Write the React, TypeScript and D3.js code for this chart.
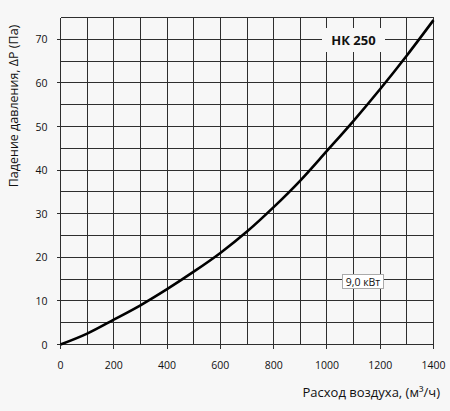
import * as d3 from 'd3';

// air flow, m³/h
const flow = [0, 100, 200, 300, 400, 500, 600, 700, 800, 900, 1000, 1100, 1200, 1300, 1400];
// pressure drop, Pa
const pressure = [0, 2.5, 5.7, 9.0, 12.7, 16.7, 21.0, 25.9, 31.5, 37.6, 44.4, 51.3, 58.6, 66.3, 74.4];

const xTicks = [0, 200, 400, 600, 800, 1000, 1200, 1400];
const yTicks = [0, 10, 20, 30, 40, 50, 60, 70];
const xGrid = d3.range(0, 1401, 100);
const yGrid = d3.range(0, 76, 5);

const modelLabel = 'НК 250';
const powerLabel = '9,0 кВт';
const xTitle = 'Расход воздуха, (м³/ч)';
const yTitle = 'Падение давления, ΔP (Па)';

const width = 450;
const height = 411;
const margin = { top: 17.5, right: 16.5, bottom: 66.5, left: 60.5 };
const font = '"Open Sans", "Noto Sans", sans-serif';
const bg = '#f7f7f7';

export default function App(): JSX.Element {
  const x = d3.scaleLinear().domain([0, 1400]).range([margin.left, width - margin.right]);
  const y = d3.scaleLinear().domain([0, 75]).range([height - margin.bottom, margin.top]);
  const px = (v: number): number => Math.round(v - 0.5) + 0.5;

  const line = d3.line<number>()
    .x((_, i) => x(flow[i]))
    .y(d => y(d))
    .curve(d3.curveCatmullRom.alpha(0.5));

  return (
    <svg
      width={width}
      height={height}
      style={{ position: 'absolute', left: 0, top: 0 }}
      fontFamily={font}
    >
      <rect width={width} height={height} fill={bg} />

      {/* grid */}
      <g stroke="#2e2e2e" strokeWidth={1} shapeRendering="crispEdges">
        {xGrid.map(d => (
          <line
            key={`v${d}`}
            x1={px(x(d))}
            x2={px(x(d))}
            y1={px(y(75))}
            y2={d % 200 === 0 ? px(y(0)) + 4 : px(y(0))}
          />
        ))}
        {yGrid.map(d => (
          <line
            key={`h${d}`}
            x1={d % 10 === 0 ? px(x(0)) - 4 : px(x(0))}
            x2={px(x(1400))}
            y1={px(y(d))}
            y2={px(y(d))}
          />
        ))}
      </g>

      {/* tick labels */}
      <g fontSize={10.5} fill="#111">
        {xTicks.map(d => (
          <text key={`xt${d}`} x={x(d)} y={height - margin.bottom + 24} textAnchor="middle">
            {d}
          </text>
        ))}
        {yTicks.map(d => (
          <text key={`yt${d}`} x={margin.left - 13} y={y(d) + 4} textAnchor="end">
            {d}
          </text>
        ))}
      </g>

      {/* model label */}
      <rect x={322} y={28} width={63} height={24} fill={bg} />
      <text x={353.5} y={44.5} textAnchor="middle" fontWeight="bold" fontSize={13} fill="#111">
        {modelLabel}
      </text>

      {/* curve */}
      <path d={line(pressure) ?? ''} fill="none" stroke="#000" strokeWidth={2.6} />

      {/* power label */}
      <rect x={342.5} y={274.5} width={41} height={14} fill="#fff" stroke="#aaa" />
      <text x={363} y={285.5} textAnchor="middle" fontSize={10.5} fill="#111">
        {powerLabel}
      </text>

      {/* axis titles */}
      <text x={440} y={397} textAnchor="end" fontSize={13} fill="#111">
        {xTitle}
      </text>
      <text transform="translate(18,106) rotate(-90)" textAnchor="middle" fontSize={12.5} fill="#111">
        {yTitle}
      </text>
    </svg>
  );
}
